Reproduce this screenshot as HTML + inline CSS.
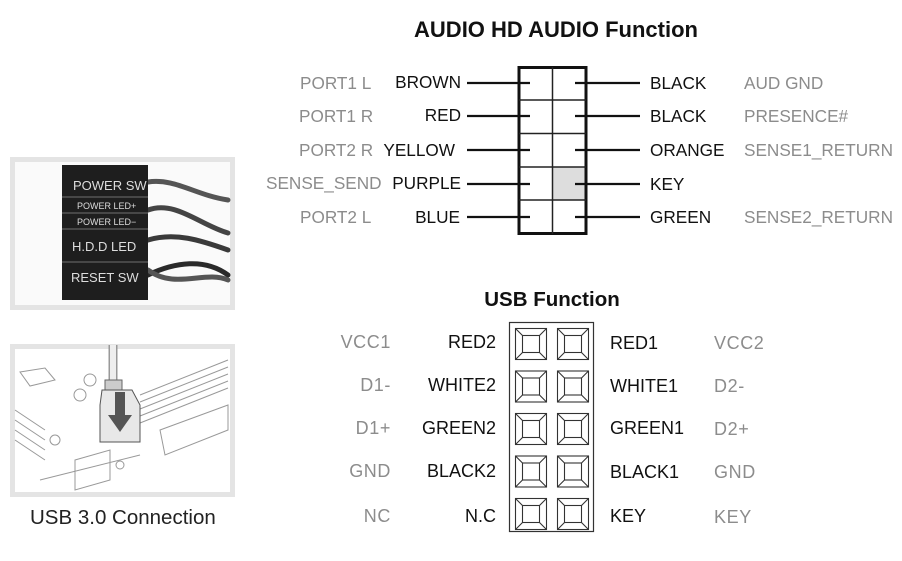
<!DOCTYPE html>
<html><head><meta charset="utf-8"><style>
html,body{margin:0;padding:0;background:#fff;}
svg{display:block;}
text{font-family:"Liberation Sans",Arial,sans-serif;}
.b{fill:#111;font-size:17.2px;}
.g{fill:#8c8c8c;font-size:17.2px;}
.ub{fill:#111;font-size:18px;}
.ug{fill:#8c8c8c;font-size:18px;letter-spacing:0.6px;}
</style></head><body>
<svg width="902" height="561" viewBox="0 0 902 561" xmlns="http://www.w3.org/2000/svg">
<!-- photo 1 -->
<rect x="12.5" y="159.5" width="220" height="148" fill="#fafafa" stroke="#e4e4e4" stroke-width="5"/>
<g fill="none" stroke="#333" stroke-width="5" stroke-linecap="round">
<path d="M148 182 C175 178 195 195 228 200" stroke="#555"/>
<path d="M148 210 C175 200 200 225 228 233" stroke="#444"/>
<path d="M148 240 C175 232 200 240 228 250" stroke="#3a3a3a"/>
<path d="M148 275 C175 262 205 258 228 275" stroke="#2a2a2a"/>
<path d="M148 270 C175 290 205 270 228 280" stroke="#555"/>
</g>
<rect x="62" y="165" width="86" height="135" fill="#1e1e1e"/>
<g stroke="#555" stroke-width="1.5"><line x1="62" y1="197" x2="148" y2="197"/><line x1="62" y1="213" x2="148" y2="213"/><line x1="62" y1="229" x2="148" y2="229"/><line x1="62" y1="262" x2="148" y2="262"/></g>
<g fill="#ddd">
<text x="73" y="190" font-size="13">POWER SW</text>
<text x="77" y="209" font-size="9">POWER LED+</text>
<text x="77" y="225" font-size="9">POWER LED−</text>
<text x="72" y="251" font-size="13">H.D.D LED</text>
<text x="71" y="282" font-size="13">RESET SW</text>
</g>
<!-- photo 2 -->
<rect x="12.5" y="346.5" width="220" height="148" fill="#fff" stroke="#e4e4e4" stroke-width="5"/>
<g fill="none" stroke="#999" stroke-width="1">
<path d="M140 395 L228 360 M140 402 L228 367 M140 409 L228 374 M140 416 L228 381 M140 423 L228 388"/>
<path d="M160 430 L228 405 L228 430 L165 455 Z"/>
<path d="M15 410 L45 430 M15 420 L45 440 M15 430 L45 450 M15 440 L45 460"/>
<path d="M20 372 L45 368 L55 380 L30 386 Z"/>
<path d="M75 460 L110 450 L110 480 L75 490 Z M40 480 L140 455"/>
<circle cx="55" cy="440" r="5"/><circle cx="90" cy="380" r="6"/><circle cx="80" cy="395" r="6"/><circle cx="120" cy="465" r="4"/>
</g>
<path d="M113 345 L113 380" stroke="#999" stroke-width="9" fill="none"/>
<path d="M113 345 L113 380" stroke="#eee" stroke-width="6" fill="none"/>
<rect x="105" y="380" width="17" height="10" fill="#ccc" stroke="#666"/>
<path d="M102 390 L132 390 L140 405 L140 442 L100 442 L100 405 Z" fill="#e8e8e8" stroke="#555"/>
<path d="M115 392 L125 392 L125 415 L132 415 L120 432 L108 415 L115 415 Z" fill="#555"/>
<!-- caption -->
<text x="30" y="524" font-size="20.5" fill="#222">USB 3.0 Connection</text>

<!-- AUDIO -->
<text x="556" y="37" text-anchor="middle" font-size="22" font-weight="bold" fill="#111">AUDIO HD AUDIO Function</text>
<rect x="519" y="67.5" width="67" height="166" fill="#fff" stroke="#111" stroke-width="3"/>
<rect x="552.5" y="167" width="32" height="33" fill="#ddd"/>
<g stroke="#222" stroke-width="1.5">
<line x1="552.5" y1="67" x2="552.5" y2="234"/>
<line x1="519" y1="100" x2="586" y2="100"/><line x1="519" y1="133.5" x2="586" y2="133.5"/>
<line x1="519" y1="167" x2="586" y2="167"/><line x1="519" y1="200" x2="586" y2="200"/>
</g>
<g stroke="#111" stroke-width="2.2">
<line x1="467" y1="83" x2="530" y2="83"/><line x1="467" y1="116" x2="530" y2="116"/><line x1="467" y1="150" x2="530" y2="150"/><line x1="467" y1="184" x2="530" y2="184"/><line x1="467" y1="217" x2="530" y2="217"/>
<line x1="575" y1="83" x2="640" y2="83"/><line x1="575" y1="116" x2="640" y2="116"/><line x1="575" y1="150" x2="640" y2="150"/><line x1="575" y1="184" x2="640" y2="184"/><line x1="575" y1="217" x2="640" y2="217"/>
</g>
<g class="b" text-anchor="end">
<text x="461" y="88">BROWN</text><text x="461" y="121">RED</text><text x="455" y="156">YELLOW</text><text x="461" y="189">PURPLE</text><text x="460" y="223">BLUE</text>
</g>
<g class="g">
<text x="300" y="89">PORT1 L</text><text x="299" y="122">PORT1 R</text><text x="299" y="156">PORT2 R</text><text x="266" y="189">SENSE_SEND</text><text x="300" y="223">PORT2 L</text>
</g>
<g class="b">
<text x="650" y="89">BLACK</text><text x="650" y="122">BLACK</text><text x="650" y="156">ORANGE</text><text x="650" y="190">KEY</text><text x="650" y="223">GREEN</text>
</g>
<g class="g">
<text x="744" y="89">AUD GND</text><text x="744" y="122">PRESENCE#</text><text x="744" y="156">SENSE1_RETURN</text><text x="744" y="223">SENSE2_RETURN</text>
</g>

<!-- USB -->
<text x="552" y="306" text-anchor="middle" font-size="20.5" font-weight="bold" fill="#111">USB Function</text>
<rect x="509.5" y="322.5" width="84" height="209" fill="#fff" stroke="#333" stroke-width="1.2"/>
<g fill="none" stroke="#333" stroke-width="1.1">
<g id="p"><rect x="515.5" y="328.5" width="31" height="31"/><rect x="522.5" y="335.5" width="17" height="17"/><path d="M515.5 328.5 L522.5 335.5 M546.5 328.5 L539.5 335.5 M515.5 359.5 L522.5 352.5 M546.5 359.5 L539.5 352.5"/></g>
<use href="#p" x="42"/>
<use href="#p" y="42.5"/><use href="#p" x="42" y="42.5"/>
<use href="#p" y="85"/><use href="#p" x="42" y="85"/>
<use href="#p" y="127.5"/><use href="#p" x="42" y="127.5"/>
<use href="#p" y="170"/><use href="#p" x="42" y="170"/>
</g>
<g class="ub" text-anchor="end">
<text x="496" y="348">RED2</text><text x="496" y="391">WHITE2</text><text x="496" y="434">GREEN2</text><text x="496" y="477">BLACK2</text><text x="496" y="522">N.C</text>
</g>
<g class="ug" text-anchor="end">
<text x="391" y="348">VCC1</text><text x="391" y="391">D1-</text><text x="391" y="434">D1+</text><text x="391" y="477">GND</text><text x="391" y="522">NC</text>
</g>
<g class="ub">
<text x="610" y="349">RED1</text><text x="610" y="392">WHITE1</text><text x="610" y="434">GREEN1</text><text x="610" y="478">BLACK1</text><text x="610" y="522">KEY</text>
</g>
<g class="ug">
<text x="714" y="349">VCC2</text><text x="714" y="392">D2-</text><text x="714" y="435">D2+</text><text x="714" y="478">GND</text><text x="714" y="523">KEY</text>
</g>
</svg>
</body></html>
